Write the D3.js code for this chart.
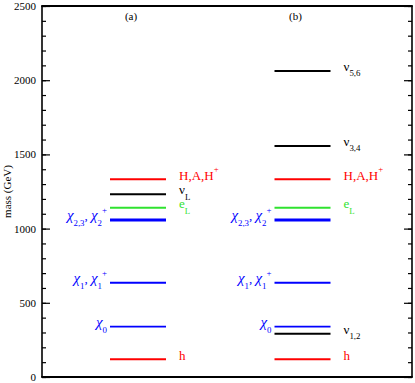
<!DOCTYPE html>
<html>
<head>
<meta charset="utf-8">
<script src="https://cdn.jsdelivr.net/npm/d3@7"></script>
<style>
  body { margin: 0; background: #fff; }
  svg { display: block; }
  text { font-family: "Liberation Serif", "Times New Roman", serif; }
</style>
</head>
<body>
<svg id="chart" width="415" height="383"></svg>
<script>
// ---- data ----
const panels = ["(a)", "(b)"];
const statesA = ["H,A,H^{+}", "ν_{L}", "e_{L}", "χ_{2,3}, χ_{2}^{+}", "χ_{1}, χ_{1}^{+}", "χ_{0}", "h"];
const massesA = [1332, 1231, 1141, 1058, 635, 339, 119];
const statesB = ["ν_{5,6}", "ν_{3,4}", "H,A,H^{+}", "e_{L}", "χ_{2,3}, χ_{2}^{+}", "χ_{1}, χ_{1}^{+}", "χ_{0}", "ν_{1,2}", "h"];
const massesB = [2062, 1557, 1332, 1141, 1058, 635, 339, 292, 119];
const yTicks = [0, 500, 1000, 1500, 2000, 2500];
const yLabel = "mass (GeV)";

// ---- styling by state kind ----
function styleOf(name) {
  if (name.startsWith("H,A") || name === "h") return {color: "#ff0000", width: 2, side: "right"};
  if (name.startsWith("ν")) return {color: "#000000", width: 2, side: "right"};
  if (name.startsWith("e")) return {color: "#2fe22f", width: 2, side: "right"};
  if (name.startsWith("χ_{2,3}")) return {color: "#0000ff", width: 3.2, side: "left"};
  return {color: "#0000ff", width: 1.8, side: "left"};
}

const svg = d3.select("#chart");
const m = {left: 42, right: 412, top: 6, bottom: 377};

const y = d3.scaleLinear().domain([0, 2500]).range([m.bottom, m.top]);
const x = d3.scalePoint().domain(panels).range([138, 302.5]);
const halfW = 28;

// ---- axes ----
const minor = d3.range(0, 2501, 100);
function ticks(xpos, axisFn, size, vals) {
  svg.append("g").attr("transform", `translate(${xpos},0)`)
    .call(axisFn(y).tickValues(vals).tickSize(size).tickFormat(""))
    .call(g => g.select(".domain").remove())
    .call(g => g.selectAll("line").attr("stroke", "#000").attr("stroke-width", 1.2));
}
ticks(m.left, d3.axisRight, 4, minor);
ticks(m.left, d3.axisRight, 8, yTicks);
ticks(m.right, d3.axisLeft, 4, minor);
ticks(m.right, d3.axisLeft, 8, yTicks);
svg.append("g").attr("transform", `translate(${m.left},0)`)
  .call(d3.axisLeft(y).tickValues(yTicks).tickSize(0).tickPadding(6).tickFormat(d3.format("d")))
  .call(g => g.select(".domain").remove())
  .call(g => g.selectAll("text").attr("font-family", "Liberation Serif, serif").attr("font-size", 11).attr("fill", "#000"));

// frame
svg.append("line").attr("x1", m.left).attr("x2", m.left).attr("y1", m.top).attr("y2", m.bottom).attr("stroke", "#000").attr("stroke-width", 1.6);
svg.append("line").attr("x1", m.right).attr("x2", m.right).attr("y1", m.top).attr("y2", m.bottom).attr("stroke", "#000").attr("stroke-width", 1.6);
svg.append("line").attr("x1", m.left - 0.8).attr("x2", m.right + 0.8).attr("y1", m.top).attr("y2", m.top).attr("stroke", "#000").attr("stroke-width", 2);
svg.append("line").attr("x1", m.left - 0.8).attr("x2", m.right + 0.8).attr("y1", m.bottom).attr("y2", m.bottom).attr("stroke", "#000").attr("stroke-width", 2);

// y label
svg.append("text")
  .attr("transform", `translate(11,${y(1250)}) rotate(-90)`)
  .attr("text-anchor", "middle").attr("font-size", 11).text(yLabel);

// panel labels
svg.selectAll(".plabel").data(panels).join("text")
  .attr("x", d => x(d) - 7).attr("y", 20).attr("text-anchor", "middle")
  .attr("font-size", 11).text(d => d);

// rich-text label helper
function richLabel(sel, str, size, subOff) {
  const re = /(_\{[^}]*\}|\^\{[^}]*\}|[^_^]+)/g;
  const parts = str.match(re);
  let shift = 0;
  parts.forEach(p => {
    let txt, fs = size, level = 0;
    if (p.startsWith("_{")) { txt = p.slice(2, -1); level = subOff; fs = size * 0.68; }
    else if (p.startsWith("^{")) { txt = p.slice(2, -1); level = -7.5; fs = size * 0.68; }
    else { txt = p; level = 0; }
    const dy = level - shift; shift = level;
    const segs = txt.split(/(χ)/).filter(s => s.length);
    segs.forEach((s, i) => {
      const t = sel.append("tspan").attr("font-size", s === "χ" ? fs * 1.15 : fs).text(s);
      if (i === 0) t.attr("dy", dy);
      if (s === "χ") t.attr("font-style", "italic");
    });
  });
}

function drawPanel(panel, states, masses) {
  const cx = x(panel);
  const g = svg.append("g");
  states.forEach((name, i) => {
    const st = styleOf(name);
    const yy = y(masses[i]);
    g.append("line")
      .attr("x1", cx - halfW).attr("x2", cx + halfW)
      .attr("y1", yy).attr("y2", yy)
      .attr("stroke", st.color).attr("stroke-width", st.width);
    const isNu = name.startsWith("ν");
    const t = g.append("text")
      .attr("fill", st.color)
      .attr("y", yy + (isNu ? 0 : 0.5));
    if (st.side === "right") {
      t.attr("x", cx + halfW + 13).attr("text-anchor", "start");
    } else {
      t.attr("x", cx - halfW - 3).attr("text-anchor", "end");
    }
    richLabel(t, name, 13, isNu ? 5.5 : 6);
  });
}

drawPanel(panels[0], statesA, massesA);
drawPanel(panels[1], statesB, massesB);
</script>
</body>
</html>
